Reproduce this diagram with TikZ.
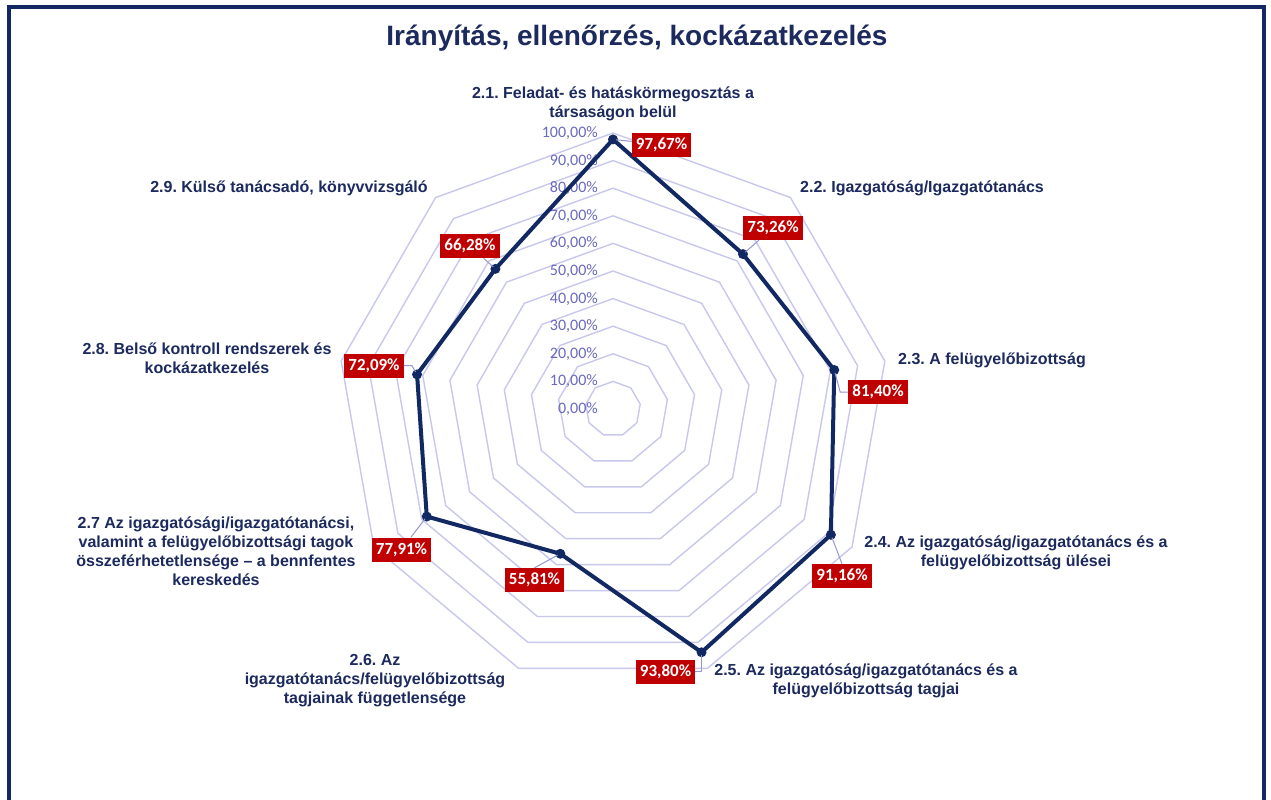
\documentclass[tikz,border=0pt]{standalone}
\usepackage{fontspec}
\setmainfont{Liberation Sans}
\newfontfamily\calib{Carlito}
\frenchspacing
\definecolor{navytext}{RGB}{28,42,94}
\definecolor{navyline}{RGB}{18,40,98}
\definecolor{gridcol}{RGB}{200,200,236}
\definecolor{pctcol}{RGB}{105,105,190}
\definecolor{boxred}{RGB}{192,0,0}
\definecolor{leadcol}{RGB}{150,150,210}
\definecolor{framecol}{RGB}{18,40,100}
\tikzset{
  frame/.style={draw=framecol,line width=4pt},
  gridline/.style={draw=gridcol,line width=1.4pt,line join=miter},
  pct/.style={text=pctcol,font=\calib\fontsize{16}{18}\selectfont,inner sep=0pt,anchor=east},
  cat/.style={text=navytext,font=\fontsize{16}{19}\selectfont\bfseries,align=center,inner sep=0pt},
  databox/.style={fill=boxred,text=white,font=\calib\bfseries\fontsize{17}{19}\selectfont,inner xsep=4pt,inner ysep=0pt,minimum height=24pt,minimum width=59pt},
  dataline/.style={draw=navyline,line width=4pt,line join=round},
  leader/.style={draw=leadcol,line width=1pt,shorten <=3pt},
  titletext/.style={text=navytext,font=\fontsize{28}{32}\selectfont\bfseries,inner sep=0pt}
}
\begin{document}
\begin{tikzpicture}[x=1pt,y=-1pt]
\useasboundingbox (0,0) rectangle (1271,800);
\fill[white] (0,0) rectangle (1271,800);
\begin{scope}
\clip (0,0) rectangle (1271,800);
\draw[frame] (9,7) rectangle (1264,840);
\end{scope}

% title
\node[titletext] (title) at (637,38) {Irányítás, ellenőrzés, kockázatkezelés};

% grid rings
\foreach \k in {1,...,10}{
  \draw[gridline] ({613+27.6*\k*cos(90)},{409-27.6*\k*sin(90)})
    \foreach \a in {50,10,-30,-70,-110,-150,-190,-230}{ -- ({613+27.6*\k*cos(\a)},{409-27.6*\k*sin(\a)}) } -- cycle;
}

% percent labels
\foreach \k/\t in {0/{0,00\%},1/{10,00\%},2/{20,00\%},3/{30,00\%},4/{40,00\%},5/{50,00\%},6/{60,00\%},7/{70,00\%},8/{80,00\%},9/{90,00\%},10/{100,00\%}}{
  \node[pct] (pl\k) at (598,{409-27.6*\k}) {\t};
}

% data points
\foreach \v [count=\i from 0] in {97.67,73.26,81.40,91.16,93.80,55.81,77.91,72.09,66.28}{
  \coordinate (p\i) at ({613+2.76*\v*cos(90-40*\i)},{409-2.76*\v*sin(90-40*\i)});
}

% category labels
\node[cat] (l0) at (613,103.5) {2.1. Feladat- és hatáskörmegosztás a\\társaságon belül};
\node[cat] (l1) at (922,188) {2.2. Igazgatóság/Igazgatótanács};
\node[cat,anchor=west] (l2) at (898,360) {2.3. A felügyelőbizottság};
\node[cat] (l3) at (1016,553) {2.4. Az igazgatóság/igazgatótanács és a\\felügyelőbizottság ülései};
\node[cat] (l4) at (866,680.5) {2.5. Az igazgatóság/igazgatótanács és a\\felügyelőbizottság tagjai};
\node[cat] (l5) at (375,681) {2.6. Az\\igazgatótanács/felügyelőbizottság\\tagjainak függetlensége};
\node[cat] (l6) at (216,551.5) {2.7 Az igazgatósági/igazgatótanácsi,\\valamint a felügyelőbizottsági tagok\\összeférhetetlensége -- a bennfentes\\kereskedés};
\node[cat] (l7) at (207,358.5) {2.8. Belső kontroll rendszerek és\\kockázatkezelés};
\node[cat] (l8) at (289,188) {2.9. Külső tanácsadó, könyvvizsgáló};

% data polygon
\draw[dataline] (p0) -- (p1) -- (p2) -- (p3) -- (p4) -- (p5) -- (p6) -- (p7) -- (p8) -- cycle;
\foreach \i in {0,...,8}{ \fill[navyline] (p\i) circle (5); }

% data labels
\node[databox] (d0) at (661.5,144.5) {97,67\%};
\node[databox] (d1) at (773,228) {73,26\%};
\node[databox] (d2) at (878,392) {81,40\%};
\node[databox] (d3) at (842,576) {91,16\%};
\node[databox] (d4) at (665.5,671.5) {93,80\%};
\node[databox] (d5) at (534.5,580) {55,81\%};
\node[databox] (d6) at (401.5,549.5) {77,91\%};
\node[databox] (d7) at (374,365.5) {72,09\%};
\node[databox] (d8) at (470,246) {66,28\%};

% leader lines
\draw[leader] (p0) -- (d0);
\draw[leader] (p1) -- (d1);
\draw[leader] (p2) -- ([xshift=-8pt]d2.west) -- (d2.west);
\draw[leader] (p3) -- (d3.north);
\draw[leader] (p4) |- (d4.east);
\draw[leader] (p5) -- (d5.north);
\draw[leader] (p6) -- (d6);
\draw[leader] (p7) -- ([xshift=8pt]d7.east) -- (d7.east);
\draw[leader] (p8) -- (d8);
\end{tikzpicture}
\end{document}
